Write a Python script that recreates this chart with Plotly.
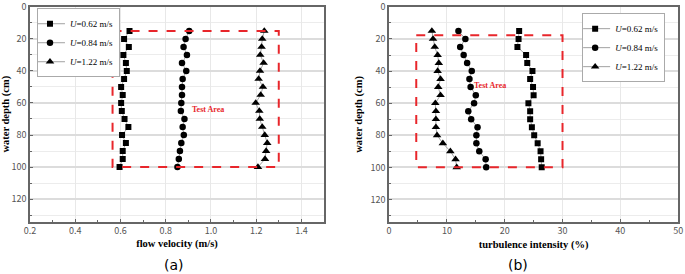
import plotly.graph_objects as go

depth = [15, 20, 25, 30, 35, 40, 45, 50, 55, 60, 65, 70, 75, 80, 85, 90, 95, 100]

vel_062 = [0.640, 0.616, 0.637, 0.613, 0.624, 0.628, 0.616, 0.603, 0.610, 0.603,
           0.606, 0.618, 0.635, 0.607, 0.624, 0.610, 0.610, 0.596]
vel_084 = [0.904, 0.888, 0.879, 0.894, 0.872, 0.891, 0.875, 0.872, 0.872, 0.869,
           0.867, 0.883, 0.875, 0.880, 0.869, 0.863, 0.858, 0.852]
vel_122 = [1.236, 1.227, 1.224, 1.218, 1.233, 1.217, 1.211, 1.230, 1.220, 1.198,
           1.214, 1.216, 1.227, 1.238, 1.249, 1.244, 1.239, 1.208]

ti_062 = [22.5, 22.4, 22.2, 23.7, 23.9, 24.8, 24.4, 24.9, 25.0, 24.1,
          24.4, 24.4, 24.7, 25.1, 25.7, 26.2, 26.3, 26.4]
ti_084 = [12.0, 13.2, 12.3, 12.9, 13.5, 14.3, 13.9, 14.1, 15.0, 14.7,
          13.7, 14.2, 15.3, 15.1, 15.1, 15.6, 16.7, 16.8]
ti_122 = [7.4, 7.6, 7.9, 8.4, 8.6, 8.4, 8.9, 8.5, 8.9, 8.0,
          8.1, 8.1, 8.1, 8.3, 9.3, 10.6, 11.5, 11.7]

series_names = ["<i>U</i>=0.62 m/s", "<i>U</i>=0.84 m/s", "<i>U</i>=1.22 m/s"]
symbols = ["square", "circle", "triangle-up"]
marker_sizes = [6, 6.5, 7.5]

vel_ticks = [0.2, 0.4, 0.6, 0.8, 1.0, 1.2, 1.4]
vel_ticktext = ["0.2", "0.4", "0.6", "0.8", "1.0", "1.2", "1.4"]
ti_ticks = [0, 10, 20, 30, 40, 50]
depth_ticks = [0, 20, 40, 60, 80, 100, 120]

box_a = dict(x0=0.565, x1=1.3, y0=15, y1=100)
box_b = dict(x0=4.7, x1=30, y0=17.7, y1=100)

fig = go.Figure()

for vals, name, sym, ms in zip([vel_062, vel_084, vel_122], series_names, symbols, marker_sizes):
    fig.add_trace(go.Scatter(
        x=vals, y=depth, mode="lines+markers", name=name,
        xaxis="x", yaxis="y", legend="legend",
        line=dict(color="#8a8a8a", width=0.8),
        marker=dict(symbol=sym, size=ms, color="black"),
    ))

for vals, name, sym, ms in zip([ti_062, ti_084, ti_122], series_names, symbols, marker_sizes):
    fig.add_trace(go.Scatter(
        x=vals, y=depth, mode="lines+markers", name=name,
        xaxis="x2", yaxis="y2", legend="legend2",
        line=dict(color="#8a8a8a", width=0.8),
        marker=dict(symbol=sym, size=ms, color="black"),
    ))

tick_font = dict(family="Noto Sans CJK SC, DejaVu Sans, sans-serif", size=9, color="#555555")
title_font = dict(family="Liberation Serif, Times New Roman, serif", size=10.5, color="black")
legend_font = dict(family="Liberation Serif, serif", size=9, color="black")

common_axis = dict(
    showline=True, linecolor="#666666", linewidth=1.5, mirror=True,
    ticks="inside", ticklen=3, tickcolor="#666666", ticklabeloverflow="allow",
    tickfont=tick_font, zeroline=False, automargin=False,
)

yaxis_common = dict(
    common_axis, range=[134, 0], tickvals=depth_ticks,
    showgrid=True, gridcolor="#dcdcdc", gridwidth=1.5,
    minor=dict(dtick=10, tick0=0, ticks="inside", ticklen=2, tickcolor="#666666",
               showgrid=True, gridcolor="#ececec", gridwidth=1),
    title=dict(text="<b>water depth (cm)</b>", font=title_font, standoff=6),
)

fig.update_layout(
    width=685, height=274,
    margin=dict(l=0, r=0, t=0, b=0, autoexpand=False),
    paper_bgcolor="white", plot_bgcolor="white",
    xaxis=dict(common_axis, domain=[0.0438, 0.473], range=[0.2, 1.5],
               tickvals=vel_ticks, ticktext=vel_ticktext,
               showgrid=True, gridcolor="#e8e8e8", gridwidth=1,
               minor=dict(dtick=0.1, tick0=0.2, ticks="inside", ticklen=2, tickcolor="#666666", showgrid=False),
               title=dict(text="<b>flow velocity (m/s)</b>", font=title_font, standoff=4),
               anchor="y"),
    yaxis=dict(yaxis_common, domain=[0.1916, 0.975], anchor="x"),
    xaxis2=dict(common_axis, domain=[0.568, 0.99], range=[0, 50],
                tickvals=ti_ticks,
                showgrid=True, gridcolor="#e8e8e8", gridwidth=1,
                minor=dict(dtick=5, tick0=0, ticks="inside", ticklen=2, tickcolor="#666666", showgrid=False),
                title=dict(text="<b>turbulence intensity (%)</b>", font=title_font, standoff=4),
                anchor="y2"),
    yaxis2=dict(yaxis_common, domain=[0.19, 0.975], anchor="x2"),
    legend=dict(x=0.054, y=0.97, xanchor="left", yanchor="top",
                bgcolor="white", bordercolor="#aaaaaa", borderwidth=1,
                font=legend_font, itemwidth=30, tracegroupgap=0, indentation=-8),
    legend2=dict(x=0.971, y=0.952, xanchor="right", yanchor="top",
                 bgcolor="white", bordercolor="#aaaaaa", borderwidth=1,
                 font=legend_font, itemwidth=30, tracegroupgap=0, indentation=-8),
    showlegend=True,
)

dash_line = dict(color="#e8262b", width=2, dash="dash")
fig.add_shape(type="rect", xref="x", yref="y", line=dash_line, **box_a)
fig.add_shape(type="rect", xref="x2", yref="y2", line=dash_line, **box_b)

fig.add_annotation(x=0.987, y=64, xref="x", yref="y", text="<b>Test Area</b>", showarrow=False,
                   font=dict(family="Liberation Serif, serif", size=8, color="#e8262b"))
fig.add_annotation(x=17.5, y=49, xref="x2", yref="y2", text="<b>Test Area</b>", showarrow=False,
                   font=dict(family="Liberation Serif, serif", size=8, color="#e8262b"))

fig.add_annotation(x=162 / 685, y=1 - 265 / 274, xref="paper", yref="paper", yanchor="middle",
                   text="(a)", showarrow=False,
                   font=dict(family="DejaVu Sans, sans-serif", size=14, color="black"))
fig.add_annotation(x=530 / 685, y=1 - 265 / 274, xref="paper", yref="paper", yanchor="middle",
                   text="(b)", showarrow=False,
                   font=dict(family="DejaVu Sans, sans-serif", size=14, color="black"))

fig.write_html("out.html", config={"displayModeBar": False},
               post_script="document.body.style.margin='0';document.body.style.overflow='hidden';")
